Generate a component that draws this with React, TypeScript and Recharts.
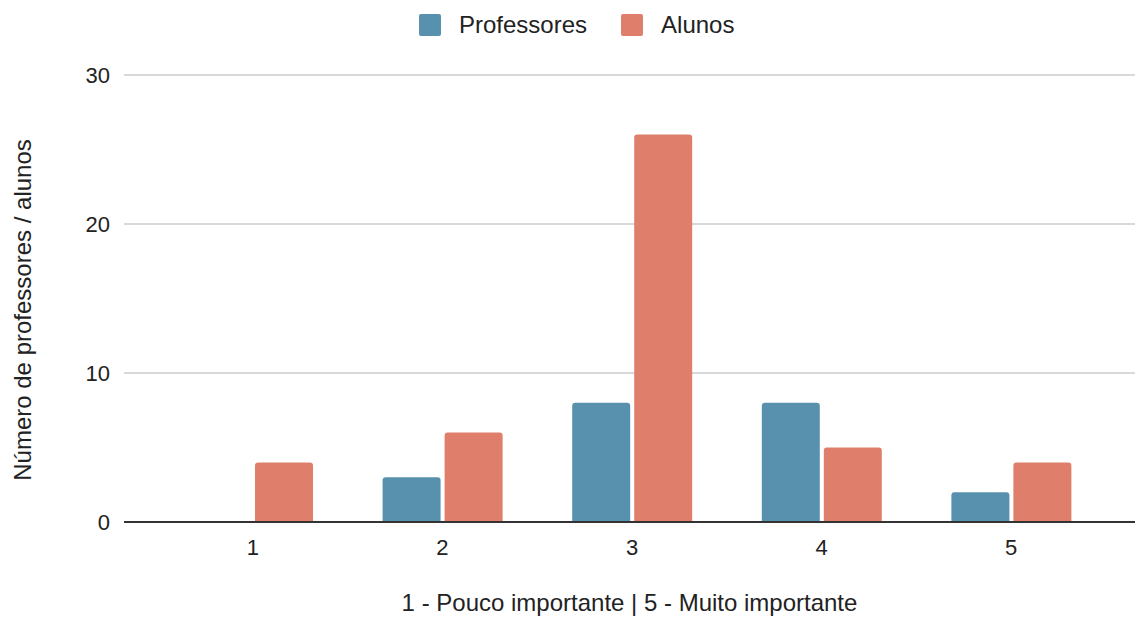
import React from 'react';
import { BarChart, Bar, XAxis, YAxis, CartesianGrid, Label } from 'recharts';

// Importance ratings (1 = pouco, 5 = muito) and how many answered each
const categories = ['1', '2', '3', '4', '5'];
const professores = [0, 3, 8, 8, 2];
const alunos = [4, 6, 26, 5, 4];
const yTicks = [0, 10, 20, 30];

const seriesNames = ['Professores', 'Alunos'];
const xTitle = '1 - Pouco importante | 5 - Muito importante';
const yTitle = 'Número de professores / alunos';

const data = categories.map((c, i) => ({
  nivel: c,
  Professores: professores[i],
  Alunos: alunos[i],
}));

const FONT = '"Liberation Sans", Arial, sans-serif';
const BLUE = '#5891ae';
const RED = '#df7e6b';
const TEXT = '#222222';

const W = 1135;
const H = 621;

function LegendRow() {
  const items = [
    { name: seriesNames[0], color: BLUE },
    { name: seriesNames[1], color: RED },
  ];
  return (
    <div
      style={{
        position: 'absolute',
        top: 13,
        left: 419,
        display: 'flex',
        alignItems: 'center',
        fontFamily: FONT,
        fontSize: 24,
        color: TEXT,
        lineHeight: '24px',
      }}
    >
      {items.map((it, i) => (
        <div key={it.name} style={{ display: 'flex', alignItems: 'center', marginRight: i === 0 ? 34 : 0 }}>
          <span
            style={{
              display: 'inline-block',
              width: 22,
              height: 22,
              borderRadius: 2,
              background: it.color,
              marginRight: 18,
            }}
          />
          <span>{it.name}</span>
        </div>
      ))}
    </div>
  );
}

function YTitle() {
  return (
    <text
      x={22}
      y={310}
      transform="rotate(-90, 22, 310)"
      textAnchor="middle"
      dominantBaseline="central"
      fontFamily={FONT}
      fontSize={24}
      fill={TEXT}
    >
      {yTitle}
    </text>
  );
}

export default function App() {
  return (
    <div style={{ position: 'absolute', left: 0, top: 0, width: W, height: H, background: '#fff' }}>
      <BarChart
        width={W}
        height={H}
        data={data}
        margin={{ top: 75, right: 0, bottom: 0, left: 0 }}
        barSize={58}
        barGap={4}
        style={{ fontFamily: FONT }}
      >
        <CartesianGrid vertical={false} stroke="#cccccc" strokeWidth={1.5} />
        <XAxis
          dataKey="nivel"
          height={99}
          padding={{ left: 34, right: 29 }}
          tickLine={false}
          tickSize={0}
          tickMargin={17}
          axisLine={{ stroke: '#333333', strokeWidth: 2 }}
          tick={{ fill: TEXT, fontSize: 22, fontFamily: FONT }}
        >
          <Label
            value={xTitle}
            position="insideBottom"
            offset={10}
            fill={TEXT}
            fontSize={24}
            fontFamily={FONT}
          />
        </XAxis>
        <YAxis
          width={124}
          domain={[0, 30]}
          ticks={yTicks}
          interval={0}
          tickLine={false}
          tickSize={0}
          tickMargin={14}
          axisLine={false}
          tick={{ fill: TEXT, fontSize: 22, fontFamily: FONT }}
        >
          <Label content={<YTitle />} />
        </YAxis>
        <Bar dataKey="Professores" fill={BLUE} radius={[3, 3, 0, 0]} isAnimationActive={false} />
        <Bar dataKey="Alunos" fill={RED} radius={[3, 3, 0, 0]} isAnimationActive={false} />
      </BarChart>
      <LegendRow />
    </div>
  );
}
